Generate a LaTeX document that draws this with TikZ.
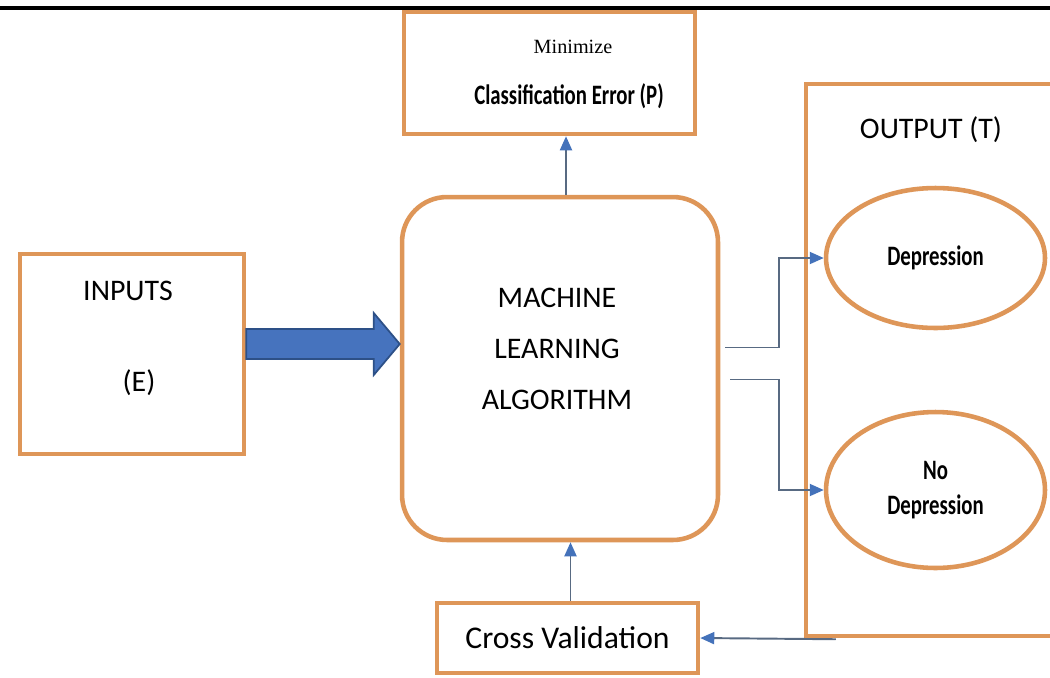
\documentclass[tikz,border=0pt]{standalone}
\usepackage{fontspec}
\usepackage{graphicx}
\setmainfont{Carlito}
\newfontfamily\serifface{Liberation Serif}
\newcommand{\squeezed}[1]{\scalebox{0.74}[1]{#1}}
\usetikzlibrary{shapes.geometric, arrows.meta, positioning, calc}

\begin{document}
\begin{tikzpicture}[x=0.02cm, y=-0.02cm, font=\fontsize{17}{20}\selectfont,
    box/.style={draw=boxorange, line width=2.6pt, fill=white, inner sep=0pt},
    oval/.style={ellipse, draw=boxorange, line width=2.6pt, inner sep=0pt, align=center,
        minimum width=4.38cm, font=\bfseries\fontsize{16}{20}\selectfont},
    conn/.style={draw=linegray, line width=1.1pt, -{Triangle[color=tipblue, length=0.28cm, width=0.24cm]}},
    lbl/.style={inner sep=0pt, align=center}]
    % Define local colors
    \definecolor{boxorange}{RGB}{222, 150, 88}
    \definecolor{linegray}{RGB}{88, 106, 130}
    \definecolor{tipblue}{RGB}{68, 114, 186}
    \definecolor{bigfill}{RGB}{70, 115, 190} \definecolor{bigline}{RGB}{45, 80, 135}

    \useasboundingbox (0,0) rectangle (1050,677);

    % rule at the top of the page
    \draw[line width=2.2pt] (0,8) -- (1050,8);

    % BOXES
    \node[box, minimum width=5.82cm, minimum height=2.44cm] (errbox) at (549.5, 73) {};
    \node[lbl, font=\serifface\fontsize{11.5}{13}\selectfont] (errtop) at (573, 47) {Minimize};
    \node[lbl, font=\bfseries\fontsize{16}{18}\selectfont] (errbot) at (569, 96) {\squeezed{Classification Error (P)}};

    \node[box, minimum width=4.48cm, minimum height=4cm] (inputs) at (132, 354) {};
    \node[lbl] (intop) at (128, 291) {INPUTS};
    \node[lbl] (inbot) at (139, 383) {(E)};

    \node[box, rounded corners=0.9cm, minimum width=6.32cm, minimum height=6.86cm] (ml) at (560, 368.5) {};
    \node[lbl, font=\fontsize{17}{29}\selectfont] (mltext) at (557, 349) {MACHINE\\LEARNING\\ALGORITHM};

    \node[box, minimum width=4.96cm, minimum height=11.04cm] (out) at (930, 360) {};
    \node[lbl] (outtext) at (931, 130) {OUTPUT (T)};
    \node[oval, minimum height=2.8cm] (dep) at (935.5, 258) {\squeezed{Depression}};
    \node[oval, minimum height=3.12cm] (nodep) at (935.5, 490) {\squeezed{No}\\\squeezed{Depression}};

    \node[box, minimum width=5.22cm, minimum height=1.4cm, font=\fontsize{18}{20}\selectfont] (cv) at (567.5, 638) {Cross Validation};

    % big input arrow
    \coordinate (bs) at ($(inputs.east)+(0,-10)$);
    \coordinate (bt) at (ml.west |- bs);
    \filldraw[fill=bigfill, draw=bigline, line width=1pt]
        ($(bs)+(0,-15)$) -- ($(bt)+(-26,-15)$) -- ($(bt)+(-26,-31)$) -- (bt)
        -- ($(bt)+(-26,31)$) -- ($(bt)+(-26,15)$) -- ($(bs)+(0,15)$) -- cycle;

    % connectors
    \draw[conn] ($(ml.north)+(6,0)$) coordinate (m1) -- (m1 |- errbox.south);
    \draw[conn] ($(cv.north)+(3,0)$) coordinate (c1) -- (c1 |- ml.south);
    \draw[conn] ($(ml.east)+(5,-21)$) -- ++(54,0) |- (dep.west);
    \draw[conn] ($(ml.east)+(10,11)$) -- ++(49,0) |- (nodep.west);
    \coordinate (fb) at ($(out.south west)+(32,1)$);
    \draw[conn] (fb) -- (cv.east);

\end{tikzpicture}
\end{document}
